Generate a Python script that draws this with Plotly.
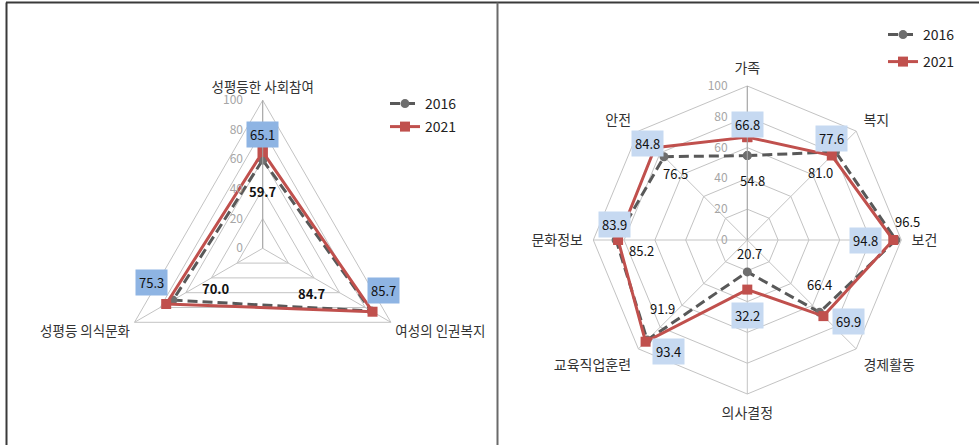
import numpy as np
import plotly.graph_objects as go

# ---------------- data ----------------
left_axes = ["성평등한 사회참여", "여성의 인권복지", "성평등 의식문화"]
left_2016 = [59.7, 84.7, 70.0]
left_2021 = [65.1, 85.7, 75.3]

right_axes = ["가족", "복지", "보건", "경제활동", "의사결정", "교육직업훈련", "문화정보", "안전"]
right_2016 = [54.8, 81.0, 96.5, 66.4, 20.7, 91.9, 85.2, 76.5]
right_2021 = [66.8, 77.6, 94.8, 69.9, 32.2, 93.4, 83.9, 84.8]

radial_ticks = [0, 20, 40, 60, 80, 100]
series_names = ["2016", "2021"]

# ---------------- styles / layout ----------------
W, H = 979, 445
FONT = "Noto Sans CJK KR, Noto Sans, sans-serif"
C16_LINE = "#595959"
C16_MARK = "#6E6E6E"
C21 = "#C0504D"
GRID = "#C3C3C3"

# label offsets in pixels (xshift, yshift)
left_21_shift = [(0, 17), (11, 21), (-15, 22)]
left_16_shift = [(0, -32), (-59, 17), (43, 12)]
right_21_shift = [(0, 13), (0, 17), (-28, 0), (25, -5), (0, -26), (23, -10), (-4, 16), (-7, 4)]
right_16_shift = [(5, -25), (-15, -21), (12, 19), (0, 28), (2, 18), (15, 32), (25, -10), (11, -17)]


def dom(cx, cy, R):
    return dict(x=[(cx - R) / W, (cx + R) / W], y=[1 - (cy + R) / H, 1 - (cy - R) / H])


left_dom = dom(262.7, 248.3, 148)
right_dom = dom(747.3, 240.0, 154)


def closed(a):
    return list(a) + [a[0]]


fig = go.Figure()

panels = [
    ("polar", "x", "y", "legend", "legend2", left_axes, left_2016, left_2021),
    ("polar2", "x2", "y2", "legend3", "legend4", right_axes, right_2016, right_2021),
]

for sub, xa, ya, lg16, lg21, cats, v16, v21 in panels:
    fig.add_trace(go.Scatterpolar(
        r=closed(v16), theta=closed(cats), subplot=sub, name=series_names[0],
        mode="lines+markers", legend=lg16,
        line=dict(color=C16_LINE, width=3, dash="10px,5px"),
        marker=dict(symbol="circle", size=9, color=C16_MARK),
        hoverinfo="skip"))
    fig.add_trace(go.Scatterpolar(
        r=closed(v21), theta=closed(cats), subplot=sub, name=series_names[1],
        mode="lines+markers", legend=lg21,
        line=dict(color=C21, width=3),
        marker=dict(symbol="square", size=10, color=C21),
        hoverinfo="skip"))
    # invisible trace to create the helper cartesian subplot used for labels
    fig.add_trace(go.Scatter(x=[0], y=[0], xaxis=xa, yaxis=ya, mode="markers",
                             marker=dict(opacity=0), showlegend=False, hoverinfo="skip"))


def polar_cfg(d, ang_font, ang_pad):
    return dict(
        domain=d, gridshape="linear", bgcolor="rgba(0,0,0,0)",
        radialaxis=dict(range=[0, 100], tickvals=radial_ticks, angle=90, tickangle=90,
                        side="counterclockwise", showline=True, linecolor="#A5A5A5",
                        linewidth=1, gridcolor=GRID, gridwidth=1,
                        ticks="outside", ticklen=15, tickcolor="rgba(0,0,0,0)",
                        tickfont=dict(family=FONT, size=12, color="#A6A6A6")),
        angularaxis=dict(rotation=90, direction="clockwise", gridcolor=GRID,
                         linecolor=GRID, linewidth=1,
                         ticks="outside", ticklen=ang_pad, tickcolor="rgba(0,0,0,0)",
                         tickfont=dict(family=FONT, size=ang_font, color="#333333")),
    )


annotations = []


def add_labels(cats, vals, shifts, xref, yref, bg, bold):
    n = len(cats)
    ang = np.deg2rad(np.arange(n) * 360.0 / n)
    xs = np.asarray(vals) * np.sin(ang)
    ys = np.asarray(vals) * np.cos(ang)
    for v, x, y, (dx, dy) in zip(vals, xs, ys, shifts):
        a = dict(x=float(x), y=float(y), xref=xref, yref=yref, text=f"{v:.1f}",
                 showarrow=False, xshift=dx, yshift=dy,
                 font=dict(family=FONT, size=13, color="#111111",
                           weight="bold" if bold else "normal"))
        if bg:
            a.update(bgcolor=bg, borderpad=3)
        annotations.append(a)


add_labels(left_axes, left_2021, left_21_shift, "x", "y", "#8EB4E3", False)
add_labels(left_axes, left_2016, left_16_shift, "x", "y", None, True)
add_labels(right_axes, right_2021, right_21_shift, "x2", "y2", "#C6D9F1", False)
add_labels(right_axes, right_2016, right_16_shift, "x2", "y2", None, False)


def hidden_axis(d, anchor):
    return dict(domain=d, range=[-100, 100], visible=False, fixedrange=True,
                showgrid=False, zeroline=False, anchor=anchor)


def legend_cfg(px, py):
    return dict(x=px / W, y=1 - py / H, xanchor="left", yanchor="middle",
                bgcolor="rgba(0,0,0,0)", borderwidth=0,
                font=dict(family=FONT, size=14, color="#222222"))


frame = dict(color="#3A3A3A", width=2)
shapes = [
    dict(type="line", xref="paper", yref="paper", x0=6 / W, x1=1, y0=1 - 2.5 / H, y1=1 - 2.5 / H, line=frame),
    dict(type="line", xref="paper", yref="paper", x0=6.5 / W, x1=6.5 / W, y0=0, y1=1 - 2.5 / H, line=frame),
    dict(type="line", xref="paper", yref="paper", x0=497.5 / W, x1=497.5 / W, y0=0, y1=1 - 2.5 / H,
         line=dict(color="#6A6A6A", width=2)),
]

fig.update_layout(
    width=W, height=H, margin=dict(l=0, r=0, t=0, b=0),
    paper_bgcolor="white", plot_bgcolor="rgba(0,0,0,0)",
    font=dict(family=FONT, size=13),
    polar=polar_cfg(left_dom, 13.5, 2),
    polar2=polar_cfg(right_dom, 14, 7),
    xaxis=hidden_axis(left_dom["x"], "y"), yaxis=hidden_axis(left_dom["y"], "x"),
    xaxis2=hidden_axis(right_dom["x"], "y2"), yaxis2=hidden_axis(right_dom["y"], "x2"),
    legend=legend_cfg(385, 104), legend2=legend_cfg(385, 127),
    legend3=legend_cfg(883, 35), legend4=legend_cfg(883, 62),
    annotations=annotations, shapes=shapes, showlegend=True,
)

fig.write_html("out.html")
